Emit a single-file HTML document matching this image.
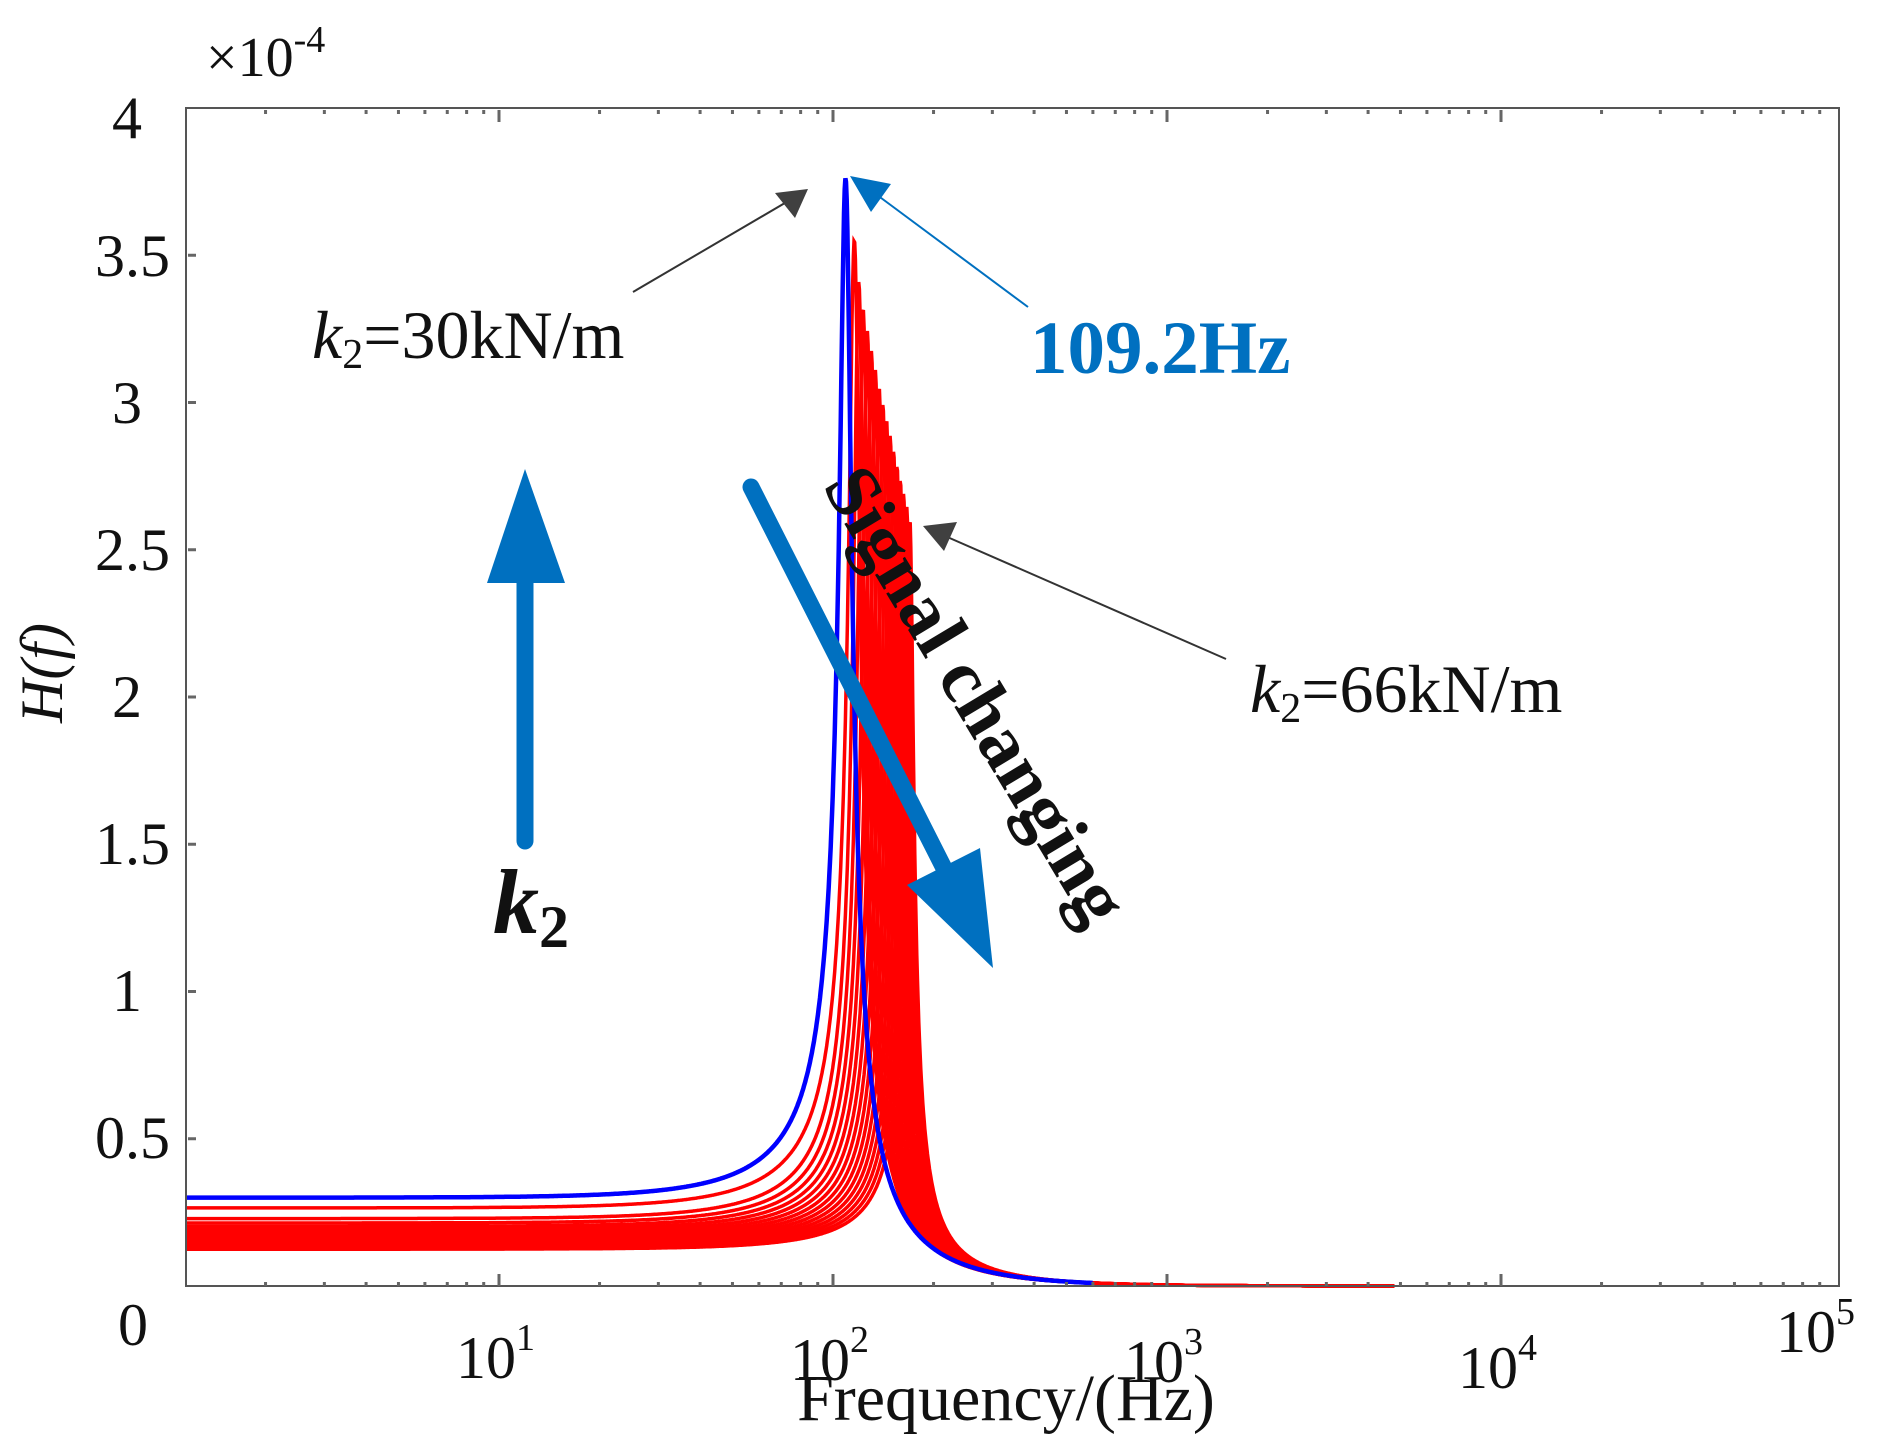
<!DOCTYPE html>
<html><head><meta charset="utf-8"><style>
html,body{margin:0;padding:0;background:#fff;}
svg{display:block;}
text{font-family:"Liberation Serif",serif;}
</style></head><body>
<svg id="s" width="1884" height="1454" viewBox="0 0 1884 1454" xmlns="http://www.w3.org/2000/svg">
<rect width="1884" height="1454" fill="#fff"/>
<g id="curves"></g>
<rect x="186" y="108" width="1653" height="1178" fill="none" stroke="#555" stroke-width="2"/>
<g id="ticks" stroke="#666" stroke-width="3"></g>
<g font-size="60" fill="#111" text-anchor="end">
<text x="142" y="138">4</text>
<text x="170" y="276">3.5</text>
<text x="142" y="423">3</text>
<text x="170" y="570">2.5</text>
<text x="142" y="717">2</text>
<text x="170" y="864">1.5</text>
<text x="142" y="1011">1</text>
<text x="170" y="1158">0.5</text>
<text x="148" y="1345">0</text>
</g>
<g font-size="60" fill="#111">
<text x="456" y="1378">10<tspan font-size="38" dy="-28">1</tspan></text>
<text x="790" y="1380">10<tspan font-size="38" dy="-28">2</tspan></text>
<text x="1124" y="1382">10<tspan font-size="38" dy="-28">3</tspan></text>
<text x="1458" y="1388">10<tspan font-size="38" dy="-28">4</tspan></text>
<text x="1776" y="1352">10<tspan font-size="38" dy="-28">5</tspan></text>
<text x="206" y="76" font-size="56">×10<tspan font-size="38" dy="-24">-4</tspan></text>
</g>
<text x="1006" y="1420" font-size="66" text-anchor="middle" fill="#111">Frequency/(Hz)</text>
<text transform="translate(62,673) rotate(-90)" font-size="60" font-style="italic" text-anchor="middle" fill="#111">H(f)</text>
<!-- annotations -->
<line x1="633" y1="292" x2="790" y2="200" stroke="#333" stroke-width="2"/>
<polygon points="808,189 775,193 795,218" fill="#404040"/>
<line x1="1028" y1="307" x2="865" y2="186" stroke="#0070c0" stroke-width="2"/>
<polygon points="850,176 891,184 871,212" fill="#0070c0"/>
<line x1="1226" y1="659" x2="945" y2="536" stroke="#333" stroke-width="2"/>
<polygon points="923,526 957,522 944,551" fill="#404040"/>
<text x="312" y="358" font-size="68" fill="#111"><tspan font-style="italic">k</tspan><tspan font-size="42" dy="10">2</tspan><tspan dy="-10">=30kN/m</tspan></text>
<text x="1250" y="712" font-size="68" fill="#111"><tspan font-style="italic">k</tspan><tspan font-size="42" dy="10">2</tspan><tspan dy="-10">=66kN/m</tspan></text>
<text x="1030" y="373" font-size="75" font-weight="bold" fill="#0070c0">109.2Hz</text>
<line x1="525" y1="841" x2="525" y2="575" stroke="#0070c0" stroke-width="17" stroke-linecap="round"/>
<polygon points="525,469 487,583 565,583" fill="#0070c0"/>
<text x="493" y="933" font-size="92" font-weight="bold" font-style="italic" fill="#111">k<tspan font-size="60" dy="14" font-style="normal">2</tspan></text>
<line x1="751" y1="487" x2="950" y2="880" stroke="#0070c0" stroke-width="17" stroke-linecap="round"/>
<polygon points="993,968 907,885 980,848" fill="#0070c0"/>
<text transform="translate(955,708) rotate(59)" font-size="76" font-weight="bold" text-anchor="middle" fill="#111">Signal changing</text>
</svg>
<script>
(function(){
var NS="http://www.w3.org/2000/svg";
function X(f){return 499+(Math.log10(f)-1)*334;}
function Y(v){return 1286-294.5*v;}
var g=document.getElementById('curves');
function curve(A,fn,z,col,w,fmax){
 var d="";var n=0;
 for(var lf=0.063;lf<=Math.log10(fmax);lf+=0.002){
  var f=Math.pow(10,lf),r=f/fn;
  var h=A/Math.sqrt((1-r*r)*(1-r*r)+(2*z*r)*(2*z*r));
  d+=(n++?"L":"M")+X(f).toFixed(1)+","+Y(h).toFixed(1);
 }
 var p=document.createElementNS(NS,"path");
 p.setAttribute("d",d);p.setAttribute("fill","none");p.setAttribute("stroke",col);p.setAttribute("stroke-width",w);
 g.appendChild(p);
}
var N=16;
for(var i=N-1;i>=0;i--){
 var t=i/(N-1);
 var A=0.265-0.14*Math.pow(t,0.5);
 var fn=116+54*t;
 var pk=3.55-0.95*Math.pow(t,0.7);
 curve(A,fn,A/(2*pk),"#ff0000",3.5,4800);
}
curve(0.30,109.2,0.30/(2*3.76),"#0000ff",4.5,600);
var tk=document.getElementById('ticks');
function ln(x1,y1,x2,y2){var l=document.createElementNS(NS,"line");l.setAttribute("x1",x1);l.setAttribute("y1",y1);l.setAttribute("x2",x2);l.setAttribute("y2",y2);tk.appendChild(l);}
for(var dcd=0;dcd<5;dcd++){
 for(var m=1;m<10;m++){
  var f=Math.pow(10,dcd)*m; var x=X(f); if(x<190||x>1836)continue;
  var L=(m==1)?12:4;
  ln(x,1286,x,1286-L); ln(x,110,x,110+L);
 }
}
for(var v=0.5;v<4;v+=0.5){ln(188,Y(v),196,Y(v));}
})();
</script>
</body></html>
